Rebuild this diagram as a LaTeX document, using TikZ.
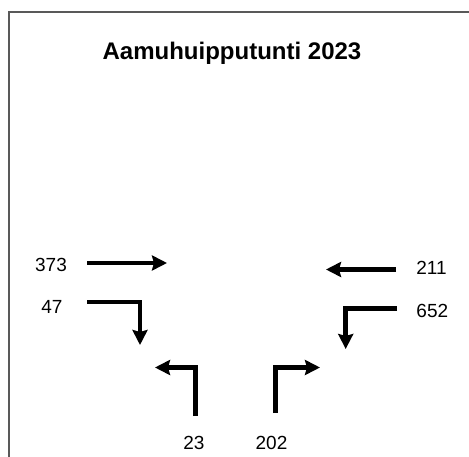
\documentclass[tikz,border=0pt]{standalone}
\usepackage{fontspec}
\setmainfont{Liberation Sans}
\usetikzlibrary{arrows.meta}
\begin{document}
\begin{tikzpicture}[x=1pt, y=-1pt,
  flow/.style={line width=4.5pt, line join=miter, -{Stealth[length=15pt, width=15pt, inset=2pt]}},
  count/.style={inner sep=0pt, font=\fontsize{19}{19}\selectfont},
  heading/.style={inner sep=0pt, anchor=base, font=\fontsize{24}{24}\selectfont\bfseries}]
  \useasboundingbox (0,0) rectangle (469,457);
  % open frame: left and top sides
  \draw[line width=2pt, black!65] (9,457) -- (9,12) -- (469,12);

  \node[heading] (title) at (232,59.3) {Aamuhuipputunti 2023};

  % volume labels
  \node[count] (n373) at (51,265) {373};
  \node[count] (n47)  at (52,307) {47};
  \node[count] (n23)  at (194,443) {23};
  \node[count] (n202) at (271.5,443) {202};
  \node[count] (n211) at (431.5,267.5) {211};
  \node[count] (n652) at (432.3,311) {652};

  % arrow end points
  \coordinate (a1s) at (87,263);   \coordinate (a1e) at (167,263);
  \coordinate (a2s) at (87,302);   \coordinate (a2c) at (140,302); \coordinate (a2e) at (140,345);
  \coordinate (a3s) at (195.5,416);\coordinate (a3c) at (195.5,367.5); \coordinate (a3e) at (155,367.5);
  \coordinate (a4s) at (396,269.5);\coordinate (a4e) at (326,269.5);
  \coordinate (a5s) at (397,308.3);\coordinate (a5c) at (345.7,308.3); \coordinate (a5e) at (345.7,349);
  \coordinate (a6s) at (275.7,413);\coordinate (a6c) at (275.7,367.5); \coordinate (a6e) at (320,367.5);

  % turning movements
  \draw[flow] (a1s) -- (a1e);
  \draw[flow] (a2s) -- (a2c) -- (a2e);
  \draw[flow] (a3s) -- (a3c) -- (a3e);
  \draw[flow] (a4s) -- (a4e);
  \draw[flow] (a5s) -- (a5c) -- (a5e);
  \draw[flow] (a6s) -- (a6c) -- (a6e);
\end{tikzpicture}
\end{document}
